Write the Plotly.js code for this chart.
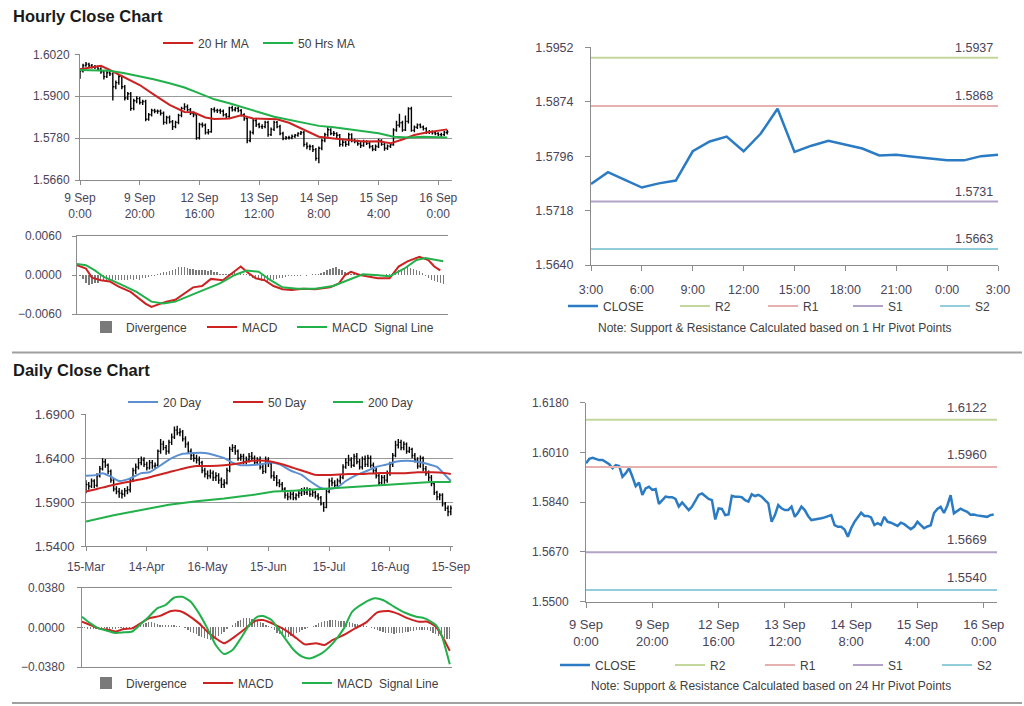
<!DOCTYPE html>
<html><head><meta charset="utf-8">
<script src="https://cdn.plot.ly/plotly-3.0.1.min.js"></script>
<style>html,body{margin:0;padding:0;background:#fff}#chart{width:1024px;height:706px}</style>
</head><body><div id="chart"></div>
<script>
// ---------------- DATA ----------------
// Hourly bars, 9 Sep 0:00 .. 16 Sep 3:00 (one entry per trading hour)
const hourTickIdx = [0, 20, 40, 60, 80, 100, 120];
const hourTickText = ['9 Sep<br>0:00', '9 Sep<br>20:00', '12 Sep<br>16:00', '13 Sep<br>12:00', '14 Sep<br>8:00', '15 Sep<br>4:00', '16 Sep<br>0:00'];

const hourClose = [
  1.5973, 1.5988, 1.5992, 1.5988, 1.5984, 1.5984, 1.5978, 1.5970, 1.5956, 1.5967,
  1.5964, 1.5927, 1.5939, 1.5956, 1.5927, 1.5895, 1.5907, 1.5865, 1.5887, 1.5893,
  1.5882, 1.5885, 1.5834, 1.5847, 1.5859, 1.5857, 1.5857, 1.5851, 1.5825, 1.5839,
  1.5827, 1.5813, 1.5825, 1.5845, 1.5865, 1.5870, 1.5861, 1.5851, 1.5847, 1.5781,
  1.5819, 1.5817, 1.5796, 1.5798, 1.5862, 1.5859, 1.5859, 1.5857, 1.5847, 1.5842,
  1.5867, 1.5861, 1.5865, 1.5859, 1.5847, 1.5836, 1.5773, 1.5796, 1.5830, 1.5819,
  1.5813, 1.5813, 1.5825, 1.5790, 1.5805, 1.5825, 1.5813, 1.5793, 1.5779, 1.5781,
  1.5781, 1.5785, 1.5788, 1.5793, 1.5796, 1.5762, 1.5756, 1.5756, 1.5747, 1.5722,
  1.5751, 1.5773, 1.5790, 1.5804, 1.5793, 1.5793, 1.5788, 1.5762, 1.5768, 1.5762,
  1.5790, 1.5773, 1.5770, 1.5764, 1.5759, 1.5770, 1.5765, 1.5756, 1.5748,
  1.5756, 1.5773, 1.5762, 1.5751, 1.5757, 1.5761, 1.5803, 1.5817, 1.5824, 1.5803,
  1.5828, 1.5864, 1.5802, 1.5811, 1.5818, 1.5812, 1.5807, 1.5797, 1.5798, 1.5795,
  1.5793, 1.5790, 1.5790, 1.5796, 1.5798
];
const hourOpen = [
  1.5970, 1.5973, 1.5988, 1.5992, 1.5988, 1.5984, 1.5984, 1.5978, 1.5970, 1.5956,
  1.5967, 1.5964, 1.5927, 1.5939, 1.5956, 1.5927, 1.5895, 1.5907, 1.5865, 1.5887,
  1.5893, 1.5882, 1.5885, 1.5834, 1.5847, 1.5859, 1.5857, 1.5857, 1.5851, 1.5825,
  1.5839, 1.5827, 1.5813, 1.5825, 1.5845, 1.5865, 1.5870, 1.5861, 1.5851, 1.5847,
  1.5781, 1.5819, 1.5817, 1.5796, 1.5798, 1.5862, 1.5859, 1.5859, 1.5857, 1.5847,
  1.5842, 1.5867, 1.5861, 1.5865, 1.5859, 1.5847, 1.5836, 1.5773, 1.5796, 1.5830,
  1.5819, 1.5813, 1.5813, 1.5825, 1.5790, 1.5805, 1.5825, 1.5813, 1.5793, 1.5779,
  1.5781, 1.5781, 1.5785, 1.5788, 1.5793, 1.5796, 1.5762, 1.5756, 1.5756, 1.5747,
  1.5722, 1.5751, 1.5773, 1.5790, 1.5804, 1.5793, 1.5793, 1.5788, 1.5762, 1.5768,
  1.5762, 1.5790, 1.5773, 1.5770, 1.5764, 1.5759, 1.5770, 1.5765, 1.5756, 1.5748,
  1.5756, 1.5773, 1.5762, 1.5751, 1.5757, 1.5761, 1.5803, 1.5817, 1.5824, 1.5803,
  1.5828, 1.5864, 1.5802, 1.5811, 1.5818, 1.5812, 1.5807, 1.5797, 1.5798, 1.5795,
  1.5793, 1.5790, 1.5790, 1.5796
];
const hourHigh = [
  1.5980, 1.5993, 1.5998, 1.5996, 1.5992, 1.5989, 1.5988, 1.5983, 1.5975, 1.5972,
  1.5975, 1.5968, 1.5945, 1.5962, 1.5960, 1.5932, 1.5912, 1.5912, 1.5893, 1.5900,
  1.5898, 1.5890, 1.5890, 1.5852, 1.5864, 1.5864, 1.5862, 1.5862, 1.5856, 1.5844,
  1.5845, 1.5832, 1.5830, 1.5850, 1.5870, 1.5880, 1.5876, 1.5866, 1.5856, 1.5852,
  1.5824, 1.5825, 1.5822, 1.5806, 1.5866, 1.5868, 1.5864, 1.5864, 1.5862, 1.5852,
  1.5870, 1.5873, 1.5869, 1.5870, 1.5863, 1.5851, 1.5840, 1.5802, 1.5835, 1.5836,
  1.5824, 1.5820, 1.5830, 1.5830, 1.5810, 1.5830, 1.5829, 1.5818, 1.5798, 1.5786,
  1.5787, 1.5790, 1.5792, 1.5797, 1.5800, 1.5800, 1.5768, 1.5762, 1.5760, 1.5752,
  1.5756, 1.5778, 1.5795, 1.5812, 1.5808, 1.5800, 1.5797, 1.5792, 1.5775, 1.5772,
  1.5795, 1.5794, 1.5778, 1.5775, 1.5769, 1.5775, 1.5774, 1.5769, 1.5760, 1.5762,
  1.5778, 1.5777, 1.5766, 1.5762, 1.5766, 1.5808, 1.5830, 1.5850, 1.5830, 1.5845,
  1.5868, 1.5870, 1.5816, 1.5822, 1.5822, 1.5816, 1.5811, 1.5803, 1.5802, 1.5799,
  1.5797, 1.5795, 1.5800, 1.5803
];
const hourLow = [
  1.5950, 1.5968, 1.5984, 1.5983, 1.5979, 1.5978, 1.5972, 1.5964, 1.5948, 1.5952,
  1.5958, 1.5888, 1.5920, 1.5933, 1.5920, 1.5888, 1.5889, 1.5858, 1.5860, 1.5880,
  1.5876, 1.5875, 1.5828, 1.5830, 1.5842, 1.5851, 1.5850, 1.5845, 1.5818, 1.5820,
  1.5822, 1.5803, 1.5808, 1.5820, 1.5840, 1.5860, 1.5856, 1.5846, 1.5840, 1.5775,
  1.5776, 1.5810, 1.5790, 1.5790, 1.5795, 1.5853, 1.5852, 1.5850, 1.5842, 1.5836,
  1.5838, 1.5856, 1.5856, 1.5854, 1.5842, 1.5830, 1.5765, 1.5768, 1.5790, 1.5812,
  1.5808, 1.5806, 1.5808, 1.5784, 1.5786, 1.5800, 1.5808, 1.5788, 1.5774, 1.5775,
  1.5776, 1.5777, 1.5780, 1.5784, 1.5789, 1.5755, 1.5748, 1.5745, 1.5740, 1.5715,
  1.5708, 1.5745, 1.5768, 1.5784, 1.5788, 1.5786, 1.5780, 1.5755, 1.5756, 1.5755,
  1.5758, 1.5768, 1.5765, 1.5758, 1.5752, 1.5755, 1.5760, 1.5750, 1.5742, 1.5743,
  1.5752, 1.5758, 1.5744, 1.5746, 1.5752, 1.5758, 1.5798, 1.5810, 1.5798, 1.5800,
  1.5822, 1.5798, 1.5797, 1.5806, 1.5808, 1.5802, 1.5792, 1.5792, 1.5790, 1.5788,
  1.5785, 1.5784, 1.5786, 1.5790
];
const hourMa20Idx = [0, 5, 7, 10, 15, 20, 25, 30, 35, 38, 42, 45, 50, 54, 58, 62, 66, 70, 75, 80, 85, 90, 95, 100, 104, 108, 112, 116, 120, 123];
const hourMa20 = [1.5977, 1.5985, 1.5987, 1.5975, 1.5954, 1.5932, 1.5903, 1.5875, 1.5855, 1.5854, 1.5839, 1.5835, 1.5836, 1.5845, 1.5836, 1.5836, 1.5834, 1.5824, 1.5803, 1.5784, 1.5779, 1.5775, 1.5770, 1.5771, 1.5765, 1.5776, 1.5789, 1.5796, 1.5800, 1.5805];
const hourMa50Idx = [0, 10, 15, 20, 25, 30, 35, 40, 45, 50, 55, 60, 65, 70, 75, 80, 85, 90, 95, 100, 105, 110, 115, 120, 123];
const hourMa50 = [1.5975, 1.5973, 1.5966, 1.5958, 1.5948, 1.5937, 1.5925, 1.5908, 1.5891, 1.5880, 1.5868, 1.5854, 1.5841, 1.5832, 1.5822, 1.5815, 1.5811, 1.5805, 1.5800, 1.5794, 1.5784, 1.5782, 1.5784, 1.5783, 1.5782];

const hourMacdIdx = [0, 3, 5, 8, 11, 14, 18, 21, 23, 25, 27, 30, 33, 36, 39, 42, 45, 49, 52, 55, 57, 60, 63, 66, 69, 72, 76, 80, 85, 88, 90, 92, 95, 98, 101, 105, 108, 111, 115, 118, 120, 122];
const hourMacd = [0.0015, 0.0010, -0.0004, -0.0008, -0.0010, -0.0018, -0.0026, -0.0036, -0.0044, -0.0049, -0.0046, -0.0041, -0.0038, -0.0028, -0.0019, -0.0017, -0.0006, -0.0008, 0.0003, 0.0013, 0.0005, -0.0005, -0.0008, -0.0017, -0.0022, -0.0023, -0.0021, -0.0022, -0.0019, -0.0013, 0.0000, 0.0005, 0.0000, -0.0003, -0.0005, -0.0005, 0.0013, 0.0021, 0.0028, 0.0023, 0.0013, 0.0007];
const hourSignalIdx = [0, 3, 6, 9, 14, 20, 25, 29, 33, 37, 42, 48, 53, 57, 61, 65, 69, 74, 80, 86, 91, 96, 100, 105, 110, 114, 117, 120, 123];
const hourSignal = [0.0017, 0.0015, 0.0007, -0.0003, -0.0013, -0.0026, -0.0041, -0.0044, -0.0041, -0.0033, -0.0024, -0.0013, 0.0000, 0.0007, 0.0005, -0.0008, -0.0019, -0.0021, -0.0021, -0.0017, -0.0008, 0.0001, 0.0000, -0.0002, 0.0010, 0.0023, 0.0026, 0.0024, 0.0021];
const hourDivergence = [
  0.0000, -0.0002, -0.0006, -0.0012, -0.0015, -0.0014, -0.0013, -0.0012, -0.0009, -0.0008,
  -0.0008, -0.0009, -0.0007, -0.0008, -0.0008, -0.0007, -0.0008, -0.0007, -0.0006, -0.0007,
  -0.0006, -0.0007, -0.0005, -0.0004, -0.0003, -0.0002, -0.0001, 0.0002, 0.0003, 0.0004,
  0.0005, 0.0006, 0.0008, 0.0010, 0.0012, 0.0013, 0.0012, 0.0011, 0.0010, 0.0009,
  0.0008, 0.0007, 0.0008, 0.0007, 0.0006, 0.0007, 0.0005, 0.0004, 0.0002, 0.0001,
  0.0001, 0.0002, 0.0003, 0.0004, 0.0003, 0.0003, 0.0002, 0.0001, -0.0002, -0.0004,
  -0.0006, -0.0008, -0.0009, -0.0008, -0.0009, -0.0008, -0.0007, -0.0006, -0.0005, -0.0004,
  -0.0003, -0.0002, -0.0002, -0.0001, -0.0001, -0.0001, 0.0000, -0.0001, 0.0000, 0.0001,
  0.0001, 0.0002, 0.0003, 0.0005, 0.0007, 0.0009, 0.0011, 0.0012, 0.0010, 0.0008,
  0.0005, 0.0003, 0.0002, 0.0002, 0.0001, 0.0001, 0.0000, -0.0001, 0.0000, -0.0001,
  0.0000, 0.0001, -0.0001, 0.0000, 0.0001, 0.0002, 0.0003, 0.0005, 0.0007, 0.0009,
  0.0010, 0.0012, 0.0011, 0.0010, 0.0008, 0.0006, 0.0003, -0.0002, -0.0005, -0.0007,
  -0.0009, -0.0011, -0.0013, -0.0014
];

// Last 24 hours: 15 Sep 3:00 .. 16 Sep 3:00
const lastDayTicks = ['3:00', '6:00', '9:00', '12:00', '15:00', '18:00', '21:00', '0:00', '3:00'];
const lastDayTickIdx = [0, 3, 6, 9, 12, 15, 18, 21, 24];
const lastDayClose = [1.5756, 1.5773, 1.5762, 1.5751, 1.5757, 1.5761, 1.5803, 1.5817, 1.5824, 1.5803, 1.5828, 1.5864, 1.5802, 1.5811, 1.5818, 1.5812, 1.5807, 1.5797, 1.5798, 1.5795, 1.5793, 1.5790, 1.5790, 1.5796, 1.5798];

const pivotNames = ['R2', 'R1', 'S1', 'S2'];
const hourPivots = [1.5937, 1.5868, 1.5731, 1.5663];
const dayPivots = [1.6122, 1.5960, 1.5669, 1.5540];

// Daily bars, 15 Mar .. 15 Sep (trading days)
const dayTickIdx = [0, 22, 44, 66, 88, 110, 132];
const dayTickText = ['15-Mar', '14-Apr', '16-May', '15-Jun', '15-Jul', '16-Aug', '15-Sep'];
const dayClose = [
  1.6100, 1.6080, 1.6140, 1.6090, 1.6200, 1.6280, 1.6360, 1.6320, 1.6250, 1.6150,
  1.6050, 1.6020, 1.6000, 1.5990, 1.6030, 1.6040, 1.6150, 1.6260, 1.6300, 1.6350,
  1.6380, 1.6330, 1.6290, 1.6350, 1.6310, 1.6320, 1.6480, 1.6560, 1.6520, 1.6480,
  1.6580, 1.6640, 1.6720, 1.6690, 1.6700, 1.6620, 1.6560, 1.6480, 1.6430, 1.6400,
  1.6380, 1.6350, 1.6260, 1.6220, 1.6200, 1.6230, 1.6180, 1.6200, 1.6150, 1.6100,
  1.6120, 1.6260, 1.6500, 1.6520, 1.6480, 1.6400, 1.6420, 1.6360, 1.6380, 1.6420,
  1.6400, 1.6350, 1.6380, 1.6300, 1.6250, 1.6380, 1.6340, 1.6200, 1.6180, 1.6120,
  1.6100, 1.6050, 1.5980, 1.5960, 1.5990, 1.5950, 1.5980, 1.6000, 1.6030, 1.6010,
  1.6040, 1.5990, 1.6010, 1.5970, 1.5950, 1.5880, 1.5840, 1.6020, 1.6140, 1.6120,
  1.6090, 1.6140, 1.6180, 1.6300, 1.6350, 1.6380, 1.6320, 1.6420, 1.6360, 1.6300,
  1.6390, 1.6330, 1.6400, 1.6320, 1.6260, 1.6200, 1.6120, 1.6180, 1.6150, 1.6230,
  1.6330, 1.6430, 1.6550, 1.6580, 1.6520, 1.6560, 1.6480, 1.6500, 1.6430, 1.6380,
  1.6310, 1.6400, 1.6280, 1.6230, 1.6180, 1.6110, 1.6010, 1.5960, 1.5980, 1.5880,
  1.5830, 1.5790, 1.5830
];
const dayOpen = [
  1.6070, 1.6100, 1.6080, 1.6140, 1.6090, 1.6200, 1.6280, 1.6360, 1.6320, 1.6250,
  1.6150, 1.6050, 1.6020, 1.6000, 1.5990, 1.6030, 1.6040, 1.6150, 1.6260, 1.6300,
  1.6350, 1.6380, 1.6330, 1.6290, 1.6350, 1.6310, 1.6320, 1.6480, 1.6560, 1.6520,
  1.6480, 1.6580, 1.6640, 1.6720, 1.6690, 1.6700, 1.6620, 1.6560, 1.6480, 1.6430,
  1.6400, 1.6380, 1.6350, 1.6260, 1.6220, 1.6200, 1.6230, 1.6180, 1.6200, 1.6150,
  1.6100, 1.6120, 1.6260, 1.6500, 1.6520, 1.6480, 1.6400, 1.6420, 1.6360, 1.6380,
  1.6420, 1.6400, 1.6350, 1.6380, 1.6300, 1.6250, 1.6380, 1.6340, 1.6200, 1.6180,
  1.6120, 1.6100, 1.6050, 1.5980, 1.5960, 1.5990, 1.5950, 1.5980, 1.6000, 1.6030,
  1.6010, 1.6040, 1.5990, 1.6010, 1.5970, 1.5950, 1.5880, 1.5840, 1.6020, 1.6140,
  1.6120, 1.6090, 1.6140, 1.6180, 1.6300, 1.6350, 1.6380, 1.6320, 1.6420, 1.6360,
  1.6300, 1.6390, 1.6330, 1.6400, 1.6320, 1.6260, 1.6200, 1.6120, 1.6180, 1.6150,
  1.6230, 1.6330, 1.6430, 1.6550, 1.6580, 1.6520, 1.6560, 1.6480, 1.6500, 1.6430,
  1.6380, 1.6310, 1.6400, 1.6280, 1.6230, 1.6180, 1.6110, 1.6010, 1.5960, 1.5980,
  1.5880, 1.5830, 1.5790
];
const dayHigh = [
  1.6150, 1.6130, 1.6170, 1.6160, 1.6230, 1.6310, 1.6400, 1.6390, 1.6340, 1.6270,
  1.6170, 1.6080, 1.6060, 1.6040, 1.6060, 1.6080, 1.6170, 1.6290, 1.6340, 1.6400,
  1.6420, 1.6410, 1.6360, 1.6380, 1.6380, 1.6350, 1.6500, 1.6620, 1.6600, 1.6550,
  1.6610, 1.6680, 1.6760, 1.6770, 1.6740, 1.6720, 1.6650, 1.6590, 1.6510, 1.6460,
  1.6440, 1.6420, 1.6370, 1.6290, 1.6260, 1.6270, 1.6260, 1.6240, 1.6230, 1.6180,
  1.6160, 1.6290, 1.6530, 1.6560, 1.6550, 1.6500, 1.6450, 1.6450, 1.6420, 1.6460,
  1.6470, 1.6430, 1.6410, 1.6420, 1.6330, 1.6420, 1.6410, 1.6360, 1.6250, 1.6210,
  1.6160, 1.6130, 1.6070, 1.6010, 1.6020, 1.6020, 1.6000, 1.6040, 1.6060, 1.6070,
  1.6070, 1.6060, 1.6040, 1.6030, 1.6000, 1.5970, 1.5900, 1.6040, 1.6170, 1.6180,
  1.6150, 1.6170, 1.6210, 1.6330, 1.6400, 1.6440, 1.6410, 1.6450, 1.6460, 1.6390,
  1.6420, 1.6430, 1.6440, 1.6430, 1.6350, 1.6290, 1.6230, 1.6210, 1.6210, 1.6260,
  1.6360, 1.6460, 1.6600, 1.6620, 1.6610, 1.6590, 1.6580, 1.6530, 1.6520, 1.6460,
  1.6410, 1.6430, 1.6420, 1.6310, 1.6260, 1.6210, 1.6140, 1.6030, 1.6000, 1.6000,
  1.5900, 1.5860, 1.5860
];
const dayLow = [
  1.6000, 1.6040, 1.6060, 1.6060, 1.6070, 1.6180, 1.6260, 1.6290, 1.6220, 1.6120,
  1.6020, 1.5990, 1.5950, 1.5940, 1.5960, 1.5990, 1.6010, 1.6130, 1.6220, 1.6270,
  1.6320, 1.6300, 1.6260, 1.6270, 1.6280, 1.6280, 1.6300, 1.6450, 1.6490, 1.6440,
  1.6450, 1.6550, 1.6620, 1.6660, 1.6650, 1.6590, 1.6520, 1.6450, 1.6380, 1.6360,
  1.6340, 1.6320, 1.6230, 1.6180, 1.6160, 1.6170, 1.6140, 1.6140, 1.6110, 1.6060,
  1.6060, 1.6100, 1.6240, 1.6470, 1.6440, 1.6370, 1.6370, 1.6330, 1.6330, 1.6350,
  1.6370, 1.6320, 1.6320, 1.6270, 1.6220, 1.6230, 1.6300, 1.6170, 1.6140, 1.6080,
  1.6070, 1.6020, 1.5940, 1.5920, 1.5930, 1.5920, 1.5920, 1.5950, 1.5970, 1.5980,
  1.5980, 1.5960, 1.5960, 1.5940, 1.5920, 1.5860, 1.5790, 1.5830, 1.6000, 1.6080,
  1.6060, 1.6060, 1.6110, 1.6160, 1.6280, 1.6310, 1.6290, 1.6300, 1.6330, 1.6270,
  1.6270, 1.6300, 1.6300, 1.6290, 1.6230, 1.6170, 1.6090, 1.6100, 1.6110, 1.6120,
  1.6200, 1.6300, 1.6410, 1.6510, 1.6490, 1.6490, 1.6450, 1.6460, 1.6400, 1.6350,
  1.6280, 1.6290, 1.6250, 1.6200, 1.6140, 1.6080, 1.5980, 1.5920, 1.5920, 1.5850,
  1.5800, 1.5740, 1.5750
];
const dayMa20Idx = [0, 4, 6, 9, 12, 16, 20, 23, 27, 31, 35, 39, 43, 46, 50, 53, 56, 59, 63, 67, 70, 74, 78, 81, 85, 88, 91, 94, 98, 102, 105, 109, 112, 116, 120, 123, 127, 129, 132];
const dayMa20 = [1.620, 1.621, 1.623, 1.619, 1.614, 1.617, 1.623, 1.624, 1.632, 1.640, 1.645, 1.646, 1.646, 1.644, 1.640, 1.635, 1.632, 1.632, 1.633, 1.635, 1.633, 1.626, 1.621, 1.614, 1.606, 1.605, 1.607, 1.614, 1.621, 1.626, 1.630, 1.633, 1.636, 1.637, 1.636, 1.634, 1.630, 1.624, 1.614];
const dayMa50Idx = [0, 4, 9, 15, 20, 25, 30, 35, 40, 45, 50, 55, 60, 65, 70, 75, 80, 83, 88, 95, 100, 105, 110, 115, 120, 125, 130, 132];
const dayMa50 = [1.602, 1.605, 1.609, 1.613, 1.616, 1.620, 1.624, 1.628, 1.631, 1.631, 1.632, 1.634, 1.637, 1.637, 1.634, 1.629, 1.624, 1.621, 1.621, 1.622, 1.622, 1.623, 1.623, 1.623, 1.624, 1.624, 1.623, 1.622];
const dayMa200Idx = [0, 10, 20, 30, 40, 50, 60, 68, 75, 85, 95, 105, 115, 125, 132];
const dayMa200 = [1.568, 1.575, 1.581, 1.587, 1.591, 1.594, 1.598, 1.602, 1.603, 1.605, 1.607, 1.609, 1.611, 1.613, 1.613];

const dayMacdIdx = [0, 3, 6, 10, 12, 15, 18, 21, 24, 28, 32, 35, 38, 42, 45, 48, 51, 54, 58, 62, 65, 69, 73, 77, 80, 84, 87, 90, 94, 98, 102, 106, 110, 113, 117, 121, 124, 127, 130, 132];
const dayMacd = [0.0054, 0.0022, -0.0010, -0.0026, -0.0040, -0.0016, -0.0010, 0.0038, 0.0086, 0.0110, 0.0156, 0.0156, 0.0118, 0.0038, -0.0041, -0.0105, -0.0153, -0.0105, -0.0026, 0.0060, 0.0070, 0.0029, -0.0026, -0.0105, -0.0163, -0.0153, -0.0169, -0.0121, -0.0073, -0.0010, 0.0048, 0.0143, 0.0156, 0.0134, 0.0086, 0.0054, 0.0054, 0.0006, -0.0121, -0.0226];
const daySignalIdx = [0, 3, 6, 10, 12, 15, 18, 21, 24, 27, 30, 33, 36, 39, 42, 45, 48, 51, 54, 57, 60, 63, 65, 68, 72, 76, 79, 82, 86, 90, 94, 97, 101, 105, 108, 112, 116, 120, 123, 127, 129, 132];
const daySignal = [0.0102, 0.0038, -0.0010, -0.0040, -0.0054, -0.0048, -0.0040, 0.0029, 0.0102, 0.0182, 0.0214, 0.0284, 0.0293, 0.0246, 0.0134, -0.0010, -0.0169, -0.0255, -0.0217, -0.0105, 0.0022, 0.0102, 0.0108, 0.0070, -0.0073, -0.0217, -0.0280, -0.0297, -0.0249, -0.0153, -0.0010, 0.0150, 0.0230, 0.0278, 0.0262, 0.0198, 0.0140, 0.0102, 0.0086, 0.0022, -0.0073, -0.0354];
const dayDivergence = [
  -0.0005, -0.0010, -0.0015, -0.0018, -0.0020, -0.0018, -0.0015, -0.0012, -0.0010, -0.0012,
  -0.0013, -0.0014, -0.0012, -0.0010, -0.0008, -0.0006, -0.0005, -0.0003, -0.0002, 0.0000,
  0.0010, 0.0020, 0.0035, 0.0045, 0.0050, 0.0048, 0.0040, 0.0032, 0.0025, 0.0022,
  0.0018, 0.0020, 0.0022, 0.0018, 0.0015, 0.0010, 0.0005, -0.0010, -0.0030, -0.0045,
  -0.0055, -0.0065, -0.0080, -0.0095, -0.0105, -0.0115, -0.0120, -0.0110, -0.0095, -0.0080,
  -0.0060, -0.0040, -0.0020, 0.0005, 0.0025, 0.0045, 0.0060, 0.0075, 0.0085, 0.0090,
  0.0088, 0.0080, 0.0070, 0.0060, 0.0050, 0.0040, 0.0025, 0.0010, -0.0010, -0.0030,
  -0.0050, -0.0065, -0.0080, -0.0088, -0.0090, -0.0085, -0.0070, -0.0055, -0.0040, -0.0030,
  -0.0020, -0.0010, 0.0000, 0.0010, 0.0025, 0.0040, 0.0050, 0.0058, 0.0065, 0.0068,
  0.0070, 0.0068, 0.0065, 0.0062, 0.0060, 0.0055, 0.0050, 0.0042, 0.0035, 0.0028,
  0.0022, 0.0018, 0.0012, 0.0005, -0.0005, -0.0015, -0.0025, -0.0035, -0.0045, -0.0050,
  -0.0055, -0.0058, -0.0060, -0.0058, -0.0055, -0.0050, -0.0045, -0.0040, -0.0038, -0.0035,
  -0.0030, -0.0028, -0.0025, -0.0022, -0.0025, -0.0035, -0.0050, -0.0065, -0.0080, -0.0090,
  -0.0100, -0.0108, -0.0112
];

// ---------------- STYLE / LAYOUT ----------------
const FONT = 'Liberation Sans, Arial, sans-serif';
const TXT = '#404040';
const TICK = '#4a4458';
const AX = '#8c8c8c';
const RED = '#cc2222', GREEN = '#22b04a', BLUE = '#2a7bc4', LBLUE = '#5b8fd2', GREY = '#7a7a7a';
const PIVOT_COLORS = ['#c3d69b', '#e6b0b0', '#b3a2c7', '#92cddc'];
const W = 1024, H = 706;
const fx = p => p / W, fy = p => 1 - p / H;

const hourIdx = hourClose.map((_, i) => i);
const dayIdx = dayClose.map((_, i) => i);
const lastDayIdx = lastDayClose.map((_, i) => i);

function xAx(d, range, tv, tt, extra) {
  return Object.assign({
    domain: [fx(d[0]), fx(d[1])], range: range, tickmode: 'array', tickvals: tv, ticktext: tt,
    ticks: 'outside', ticklen: 4, tickcolor: AX, showline: true, linecolor: AX, linewidth: 1,
    showgrid: false, zeroline: false, fixedrange: true,
    tickfont: { family: FONT, size: 12, color: TICK }, rangeslider: { visible: false }
  }, extra || {});
}
function yAx(d, range, tv, extra) {
  return Object.assign({
    domain: [fy(d[1]), fy(d[0])], range: range, tickmode: 'array', tickvals: tv, tickformat: '.4f',
    ticks: 'outside', ticklen: 4, tickcolor: AX, showline: true, linecolor: AX, linewidth: 1,
    showgrid: false, gridcolor: '#9a9a9a', gridwidth: 1, zeroline: false, fixedrange: true,
    tickfont: { family: FONT, size: 12, color: TICK }
  }, extra || {});
}
function leg(xpx, ypx) {
  return { x: fx(xpx), y: fy(ypx), xanchor: 'left', yanchor: 'middle', orientation: 'h',
    bgcolor: 'rgba(0,0,0,0)', borderwidth: 0, itemwidth: 30, tracegroupgap: 0,
    font: { family: FONT, size: 12, color: TXT } };
}
const OHLC_LINE = { line: { color: '#000', width: 1.4 } };

const traces = [];
// A: hourly OHLC + MAs
traces.push({ type: 'ohlc', x: hourIdx, open: hourOpen, high: hourHigh, low: hourLow, close: hourClose,
  xaxis: 'x', yaxis: 'y', increasing: OHLC_LINE, decreasing: OHLC_LINE, tickwidth: 0.4,
  showlegend: false, hoverinfo: 'skip' });
traces.push({ type: 'scatter', mode: 'lines', name: '20 Hr MA', x: hourMa20Idx, y: hourMa20, xaxis: 'x', yaxis: 'y',
  line: { color: RED, width: 2 }, legend: 'legend', legendwidth: 55 });
traces.push({ type: 'scatter', mode: 'lines', name: '50 Hrs MA', x: hourMa50Idx, y: hourMa50, xaxis: 'x', yaxis: 'y',
  line: { color: GREEN, width: 2 }, legend: 'legend', legendwidth: 55 });
// B: hourly MACD
traces.push({ type: 'bar', name: 'Divergence', x: hourIdx, y: hourDivergence, xaxis: 'x2', yaxis: 'y2', width: 0.45,
  marker: { color: GREY, line: { width: 0 } }, legend: 'legend2', legendwidth: 71 });
traces.push({ type: 'scatter', mode: 'lines', name: 'MACD', x: hourMacdIdx, y: hourMacd, xaxis: 'x2', yaxis: 'y2',
  line: { color: RED, width: 2 }, legend: 'legend2', legendwidth: 45 });
traces.push({ type: 'scatter', mode: 'lines', name: 'MACD  Signal Line', x: hourSignalIdx, y: hourSignal, xaxis: 'x2', yaxis: 'y2',
  line: { color: GREEN, width: 2 }, legend: 'legend2', legendwidth: 100 });
// C: last 24h close + pivots
const cWidths = [67, 43, 40, 42, 40];
traces.push({ type: 'scatter', mode: 'lines', name: 'CLOSE', x: lastDayIdx, y: lastDayClose, xaxis: 'x3', yaxis: 'y3',
  line: { color: BLUE, width: 2.5 }, legend: 'legend3', legendwidth: cWidths[0] });
pivotNames.forEach((n, k) => traces.push({ type: 'scatter', mode: 'lines', name: n,
  x: [lastDayIdx[0], lastDayIdx[lastDayIdx.length - 1]], y: [hourPivots[k], hourPivots[k]], xaxis: 'x3', yaxis: 'y3',
  line: { color: PIVOT_COLORS[k], width: 2 }, legend: 'legend3', legendwidth: cWidths[k + 1] }));
// D: daily OHLC + MAs
traces.push({ type: 'ohlc', x: dayIdx, open: dayOpen, high: dayHigh, low: dayLow, close: dayClose,
  xaxis: 'x4', yaxis: 'y4', increasing: OHLC_LINE, decreasing: OHLC_LINE, tickwidth: 0.4,
  showlegend: false, hoverinfo: 'skip' });
traces.push({ type: 'scatter', mode: 'lines', name: '20 Day', x: dayMa20Idx, y: dayMa20, xaxis: 'x4', yaxis: 'y4',
  line: { color: LBLUE, width: 2, shape: 'spline', smoothing: 0.6 }, legend: 'legend4', legendwidth: 60 });
traces.push({ type: 'scatter', mode: 'lines', name: '50 Day', x: dayMa50Idx, y: dayMa50, xaxis: 'x4', yaxis: 'y4',
  line: { color: RED, width: 2, shape: 'spline', smoothing: 0.6 }, legend: 'legend4', legendwidth: 55 });
traces.push({ type: 'scatter', mode: 'lines', name: '200 Day', x: dayMa200Idx, y: dayMa200, xaxis: 'x4', yaxis: 'y4',
  line: { color: GREEN, width: 2 }, legend: 'legend4', legendwidth: 55 });
// E: daily MACD
traces.push({ type: 'bar', name: 'Divergence', x: dayIdx, y: dayDivergence, xaxis: 'x5', yaxis: 'y5', width: 0.45,
  marker: { color: GREY, line: { width: 0 } }, legend: 'legend5', legendwidth: 67 });
traces.push({ type: 'scatter', mode: 'lines', name: 'MACD', x: dayMacdIdx, y: dayMacd, xaxis: 'x5', yaxis: 'y5',
  line: { color: RED, width: 2, shape: 'spline', smoothing: 0.6 }, legend: 'legend5', legendwidth: 54 });
traces.push({ type: 'scatter', mode: 'lines', name: 'MACD  Signal Line', x: daySignalIdx, y: daySignal, xaxis: 'x5', yaxis: 'y5',
  line: { color: GREEN, width: 2, shape: 'spline', smoothing: 0.6 }, legend: 'legend5', legendwidth: 100 });
// F: hourly close over the week + daily pivots
const fWidths = [70, 45, 43, 44, 40];
traces.push({ type: 'scatter', mode: 'lines', name: 'CLOSE', x: hourIdx, y: hourClose, xaxis: 'x6', yaxis: 'y6',
  line: { color: BLUE, width: 2.5 }, legend: 'legend6', legendwidth: fWidths[0] });
pivotNames.forEach((n, k) => traces.push({ type: 'scatter', mode: 'lines', name: n,
  x: [hourIdx[0], hourIdx.length], y: [dayPivots[k], dayPivots[k]], xaxis: 'x6', yaxis: 'y6',
  line: { color: PIVOT_COLORS[k], width: 2 }, legend: 'legend6', legendwidth: fWidths[k + 1] }));

const annotations = [
  { text: '<b>Hourly Close Chart</b>', xref: 'paper', yref: 'paper', x: fx(11), y: fy(16), xanchor: 'left', yanchor: 'middle',
    showarrow: false, font: { family: FONT, size: 16.5, color: '#1a1a1a' } },
  { text: '<b>Daily Close Chart</b>', xref: 'paper', yref: 'paper', x: fx(11), y: fy(370), xanchor: 'left', yanchor: 'middle',
    showarrow: false, font: { family: FONT, size: 16.5, color: '#1a1a1a' } },
  { text: 'Note: Support & Resistance Calculated based on 1 Hr Pivot Points', xref: 'paper', yref: 'paper', x: fx(775), y: fy(328),
    xanchor: 'center', yanchor: 'middle', showarrow: false, font: { family: FONT, size: 12, color: TXT } },
  { text: 'Note: Support & Resistance Calculated based on 24 Hr Pivot Points', xref: 'paper', yref: 'paper', x: fx(771), y: fy(686),
    xanchor: 'center', yanchor: 'middle', showarrow: false, font: { family: FONT, size: 12, color: TXT } }
];
hourPivots.forEach(v => annotations.push({ text: v.toFixed(4), xref: 'x3', yref: 'y3', x: lastDayIdx[lastDayIdx.length - 1], y: v,
  xanchor: 'right', yanchor: 'bottom', xshift: -3, yshift: 1, showarrow: false, font: { family: FONT, size: 12.5, color: TICK } }));
dayPivots.forEach(v => annotations.push({ text: v.toFixed(4), xref: 'x6', yref: 'y6', x: hourIdx.length, y: v,
  xanchor: 'right', yanchor: 'bottom', xshift: -8, yshift: 3, showarrow: false, font: { family: FONT, size: 13, color: TICK } }));

const sep = y => ({ type: 'line', xref: 'paper', yref: 'paper', x0: fx(12), x1: fx(1022), y0: fy(y), y1: fy(y),
  line: { color: '#a0a0a0', width: 2 } });

const layout = {
  width: W, height: H, margin: { l: 0, r: 0, t: 0, b: 0 }, paper_bgcolor: '#fff', plot_bgcolor: '#fff',
  font: { family: FONT, color: TXT }, showlegend: true, bargap: 0, barmode: 'overlay',
  xaxis: xAx([80, 452], [0, 124.6], hourTickIdx, hourTickText, { anchor: 'y', ticklabelstandoff: 3 }),
  yaxis: yAx([54.3, 180], [1.5660, 1.6020], [1.5660, 1.5780, 1.5900, 1.6020], { anchor: 'x', showgrid: true, ticklabelstandoff: 3 }),
  xaxis2: xAx([77, 448], [0, 124.6], [], [], { anchor: 'y2', showticklabels: false, ticks: '', mirror: true }),
  yaxis2: yAx([236, 314], [-0.006, 0.006], [-0.006, 0, 0.006], { anchor: 'x2', ticklabelstandoff: 8 }),
  xaxis3: xAx([591, 998], [0, 24], lastDayTickIdx, lastDayTicks, { anchor: 'y3', ticklen: 5, ticklabelstandoff: 8, tickfont: { family: FONT, size: 12.5, color: TICK } }),
  yaxis3: yAx([47.3, 265], [1.5640, 1.5952], [1.5640, 1.5718, 1.5796, 1.5874, 1.5952], { anchor: 'x3', ticklen: 5, ticklabelstandoff: 9, tickfont: { family: FONT, size: 12.5, color: TICK } }),
  xaxis4: xAx([86, 453], [0, 132.8], dayTickIdx, dayTickText, { anchor: 'y4', ticklabelstandoff: 6 }),
  yaxis4: yAx([414.3, 546], [1.5400, 1.6900], [1.5400, 1.5900, 1.6400, 1.6900], { anchor: 'x4', showgrid: true, ticklabelstandoff: 4, tickfont: { family: FONT, size: 13, color: TICK } }),
  xaxis5: xAx([82, 452], [0, 132.8], [], [], { anchor: 'y5', showticklabels: false, ticks: '', mirror: true }),
  yaxis5: yAx([587.7, 667], [-0.038, 0.038], [-0.038, 0, 0.038], { anchor: 'x5', ticklabelstandoff: 10 }),
  xaxis6: xAx([586, 997], [0, 124], hourTickIdx, hourTickText, { anchor: 'y6', ticklen: 5, ticklabelstandoff: 6, tickfont: { family: FONT, size: 13, color: TICK } }),
  yaxis6: yAx([402.7, 601.7], [1.5500, 1.6180], [1.5500, 1.5670, 1.5840, 1.6010, 1.6180], { anchor: 'x6', ticklen: 5, ticklabelstandoff: 9 }),
  legend: leg(158, 43),
  legend2: leg(86, 327),
  legend3: leg(563, 306),
  legend4: leg(123, 402),
  legend5: leg(86, 683),
  legend6: leg(555, 665),
  annotations: annotations,
  shapes: [sep(352.5), sep(703)]
};

Plotly.newPlot('chart', traces, layout, { displayModeBar: false, staticPlot: true });
</script></body></html>
